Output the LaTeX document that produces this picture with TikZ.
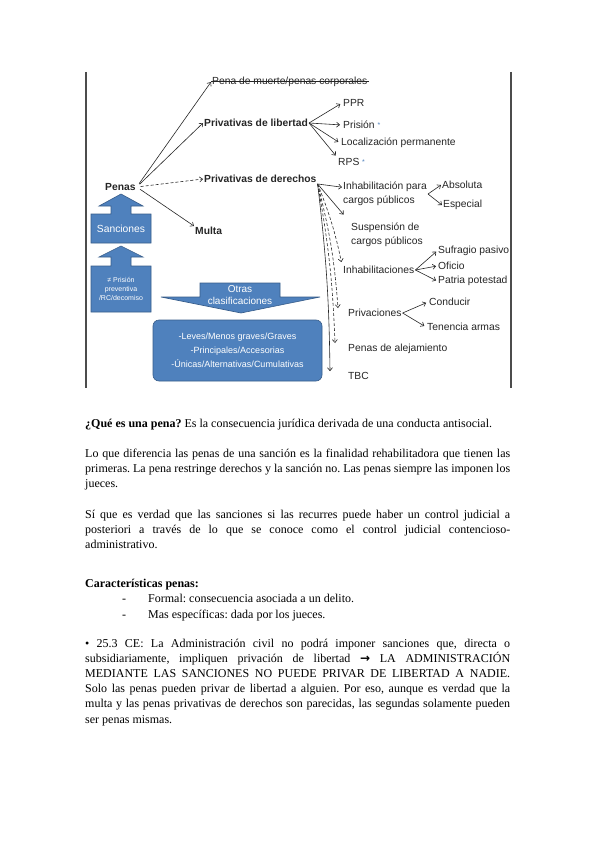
\documentclass[tikz,border=0pt]{standalone}
\usepackage{fontspec}
\setmainfont{Liberation Serif}
\newfontfamily\diagfont{Liberation Sans}
\newfontfamily\symfont{DejaVu Sans}
\usetikzlibrary{arrows.meta}

\definecolor{calloutblue}{HTML}{4F81BD}
\definecolor{calloutedge}{HTML}{385D8A}
\newcommand\dg{\diagfont\fontsize{10.3}{13.5}\selectfont}
\newcommand\bodyfont{\fontsize{12}{15.2}\selectfont\frenchspacing\hyphenpenalty=10000\tolerance=9999}

\begin{document}
\begin{tikzpicture}[x=1pt,y=-1pt,>={Straight Barb[length=3pt,width=5pt]},
 lbl/.style={font=\dg,text=black!85,inner sep=1pt,anchor=west},
 hd/.style={lbl,font=\dg\bfseries},
 twoline/.style={lbl,align=left},
 flow/.style={->,black!85,line width=0.6pt},
 dflow/.style={flow,dash pattern=on 3pt off 2pt},
 callout/.style={fill=calloutblue,draw=calloutedge,line width=0.6pt},
 intext/.style={text=white,align=center,inner sep=0pt},
 body/.style={font=\bodyfont,inner sep=0pt,anchor=base west,text width=425pt,align=justify},
 frame/.style={draw=black!70,line width=1.2pt}]
\useasboundingbox[fill=white] (0,0) rectangle (599,848);

% frame of the scheme
\draw[frame] (86,72) -- (86,388);
\draw[frame] (511,72) -- (511,388);

% blue shapes
\filldraw[callout] (91,243) -- (91,214) -- (111,214) -- (111,206) -- (99,206) -- (121,194)
  -- (143,206) -- (131,206) -- (131,214) -- (151,214) -- (151,243) -- cycle;
\filldraw[callout] (91,312) -- (91,266) -- (111,266) -- (111,257) -- (99,257) -- (121,246)
  -- (143,257) -- (131,257) -- (131,266) -- (151,266) -- (151,312) -- cycle;
\filldraw[callout] (200,283) -- (280,283) -- (280,297) -- (320,297) -- (241,313)
  -- (161,297) -- (200,297) -- cycle;
\node[intext,font=\diagfont\fontsize{10.3}{12}\selectfont] (sanc) at (121,229) {Sanciones};
\node[intext,font=\diagfont\fontsize{7}{8.8}\selectfont] (prev) at (121,289) {≠ Prisión\\preventiva\\/RC/decomiso};
\node[intext,font=\diagfont\fontsize{10}{12}\selectfont] (otras) at (240,295) {Otras\\clasificaciones};
\node[callout,rounded corners=6pt,minimum width=169pt,minimum height=61pt,intext,
  font=\diagfont\fontsize{9}{14}\selectfont] (clasif) at (237.5,350.5)
  {-Leves/Menos graves/Graves\\-Principales/Accesorias\\-Únicas/Alternativas/Cumulativas};

% labels
\node[hd] (penas) at (104,187) {Penas};
\node[lbl] (muerte) at (211,82) {Pena de muerte/penas corporales};
\draw[black!85,line width=0.6pt] ([yshift=3pt]muerte.base west) -- ([yshift=3pt]muerte.base east);
\node[hd] (plib) at (203,123) {Privativas de libertad};
\node[lbl] (ppr) at (342,103) {PPR};
\node[lbl] (prision) at (342,125) {Prisión {\color{calloutblue}\raisebox{1.5pt}{\scriptsize*}}};
\node[lbl] (local) at (340,143) {Localización permanente};
\node[lbl] (rps) at (337,162) {RPS {\color{calloutblue}\raisebox{1.5pt}{\scriptsize*}}};
\node[hd] (pder) at (203,179) {Privativas de derechos};
\node[hd] (multa) at (194,231) {Multa};
\node[twoline] (inhpara) at (342,194) {Inhabilitación para\\cargos públicos};
\node[lbl] (absoluta) at (441,185) {Absoluta};
\node[lbl] (especial) at (442,205) {Especial};
\node[twoline] (susp) at (350,235) {Suspensión de\\cargos públicos};
\node[lbl] (inhab) at (342,270) {Inhabilitaciones};
\node[lbl] (sufragio) at (437,251) {Sufragio pasivo};
\node[lbl] (oficio) at (437,266) {Oficio};
\node[lbl] (patria) at (437,281) {Patria potestad};
\node[lbl] (privac) at (347,313) {Privaciones};
\node[lbl] (conducir) at (428,302) {Conducir};
\node[lbl] (tenencia) at (426,327) {Tenencia armas};
\node[lbl] (alej) at (347,349) {Penas de alejamiento};
\node[lbl] (tbc) at (347,376) {TBC};

% connectors
\draw[flow,shorten <=4pt] (penas.east) -- (muerte.west);
\draw[flow,shorten <=4pt] (penas.east) -- (plib.west);
\draw[dflow,shorten <=4pt] (penas.east) -- (pder.west);
\draw[flow,shorten <=4pt] (penas.east) -- (multa.north west);
\foreach \t in {ppr,prision,local}
  \draw[flow,shorten >=2pt] (plib.east) -- (\t.west);
\draw[flow,shorten >=2pt] (plib.east) -- (rps.north west);
\draw[flow] (pder.south east) -- ([yshift=-6pt]inhpara.north west);
\draw[flow,shorten >=10pt] (pder.south east) -- (susp.north west);
\draw[dflow,shorten >=3pt] (pder.south east) to[bend left=5] (inhab.north west);
\draw[dflow] (pder.south east) to[bend left=5] ([xshift=-9pt]privac.north west);
\draw[dflow] (pder.south east) to[bend left=4] ([xshift=-12pt]alej.north west);
\draw[flow] (pder.south east) to[bend left=3] ([xshift=-17pt]tbc.north west);
\draw[flow] (inhpara.east) -- (absoluta.west);
\draw[flow] (inhpara.east) -- (especial.west);
\foreach \t in {sufragio,oficio,patria}
  \draw[flow,shorten >=1pt] (inhab.east) -- (\t.west);
\draw[flow,shorten >=2pt] (privac.east) -- (conducir.west);
\draw[flow,shorten >=2pt] (privac.east) -- (tenencia.west);

% text under the scheme
\node[body] (que) at (85,427) {\textbf{¿Qué es una pena?} Es la consecuencia jurídica derivada de una conducta antisocial.};
\node[body] (difer) at (85,457) {Lo que diferencia las penas de una sanción es la finalidad rehabilitadora que tienen las\linebreak
  primeras. La pena restringe derechos y la sanción no. Las penas siempre las imponen los\linebreak jueces.};
\node[body] (recurso) at (85,518) {Sí que es verdad que las sanciones si las recurres puede haber un control judicial a\linebreak
  posteriori a través de lo que se conoce como el control judicial contencioso-\linebreak administrativo.};
\node[body] (caract) at (85,587) {\textbf{Características penas:}};
\node[body,text width=10pt] (dash1) at (122,602) {-};
\node[body,text width=350pt] (formal) at (148,602) {Formal: consecuencia asociada a un delito.};
\node[body,text width=10pt] (dash2) at (122,618) {-};
\node[body,text width=350pt] (especif) at (148,618) {Mas específicas: dada por los jueces.};
\node[body] (art) at (85,647) {•\ 25.3 CE: La Administración civil no podrá imponer sanciones que, directa o\linebreak
  subsidiariamente, impliquen privación de libertad {\symfont\bfseries →} LA ADMINISTRACIÓN\linebreak
  MEDIANTE LAS SANCIONES NO PUEDE PRIVAR DE LIBERTAD A NADIE.\linebreak
  Solo las penas pueden privar de libertad a alguien. Por eso, aunque es verdad que la\linebreak
  multa y las penas privativas de derechos son parecidas, las segundas solamente pueden\linebreak
  ser penas mismas.};
\end{tikzpicture}
\end{document}
